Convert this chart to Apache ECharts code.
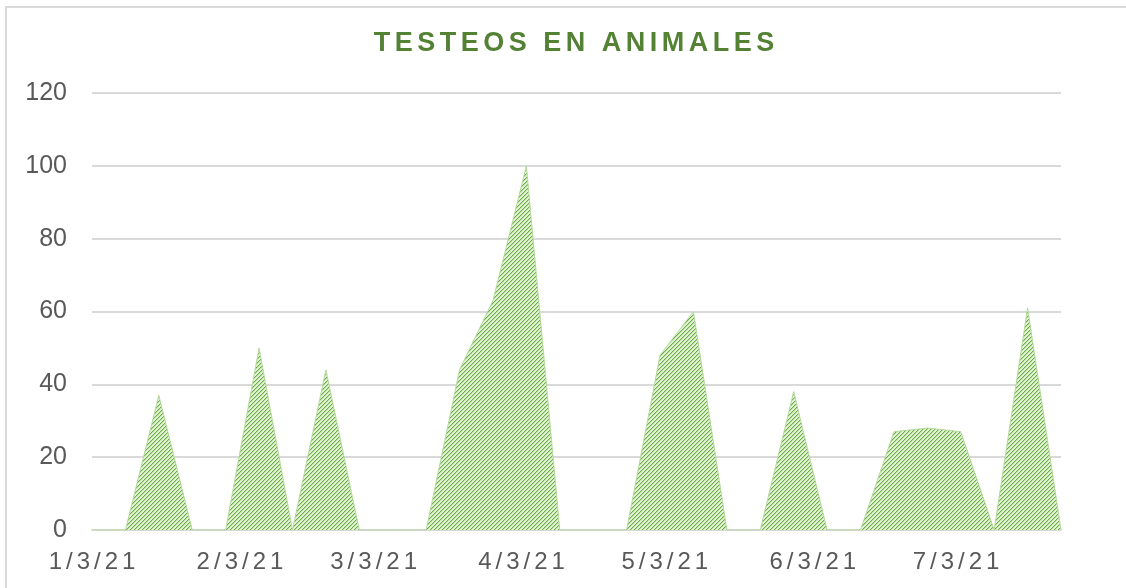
<!DOCTYPE html>
<html>
<head>
<meta charset="utf-8">
<script src="https://cdn.jsdelivr.net/npm/echarts@6/dist/echarts.min.js"></script>
<style>
html,body{margin:0;padding:0;background:#fff;}
#chart{width:1126px;height:588px;}
</style>
</head>
<body>
<div id="chart"></div>
<script>
// ---- data ----
const titleText = 'TESTEOS EN ANIMALES';
const dates = ['2021-01-03','2021-01-10','2021-01-17','2021-01-24','2021-01-31',
  '2021-02-07','2021-02-14','2021-02-21','2021-02-28','2021-03-07',
  '2021-03-14','2021-03-21','2021-03-28','2021-04-04','2021-04-11',
  '2021-04-18','2021-04-25','2021-05-02','2021-05-09','2021-05-16',
  '2021-05-23','2021-05-30','2021-06-06','2021-06-13','2021-06-20',
  '2021-06-27','2021-07-04','2021-07-11','2021-07-18','2021-07-25'];
const values = [0,0,37,0,0,50,0,44,0,0,0,44,63,100,0,0,0,48,60,0,0,38,0,0,27,28,27,0,61,0];
const tickDates = ['2021-01-03','2021-02-03','2021-03-03','2021-04-03','2021-05-03','2021-06-03','2021-07-03'];
const tickLabels = ['1/3/21','2/3/21','3/3/21','4/3/21','5/3/21','6/3/21','7/3/21'];
const yTicks = [0,20,40,60,80,100,120];

// ---- helpers ----
const DAY = 86400000;
function dayNum(s){ const p = s.split('-').map(Number); return Math.round(Date.UTC(p[0], p[1]-1, p[2]) / DAY); }
function spaced(s){ return s.split('').join('\u2006'); }

// hatch pattern
const pc = document.createElement('canvas');
pc.width = 4; pc.height = 4;
const pctx = pc.getContext('2d');
const img = pctx.createImageData(4,4);
for (let y=0;y<4;y++){
  for (let x=0;x<4;x++){
    const i=(y*4+x)*4;
    let c=[226,241,216];
    if ((x+y)%4===3) c=[104,172,62];
    else if ((x+y)%4===0) c=[188,223,166];
    img.data[i]=c[0]; img.data[i+1]=c[1]; img.data[i+2]=c[2]; img.data[i+3]=255;
  }
}
pctx.putImageData(img,0,0);

const chart = echarts.init(document.getElementById('chart'), null, {renderer:'canvas'});
const tickDays = tickDates.map(dayNum);
const FONT = 'Liberation Sans, Arial, sans-serif';

chart.setOption({
  backgroundColor:'#ffffff',
  animation:false,
  title:{
    text: titleText.split(' ').map(spaced).join('\u2006 \u2006'),
    left: 569, top: 25, textAlign:'center',
    textStyle:{color:'#548235', fontSize:27, fontWeight:'bold', fontFamily:FONT}
  },
  graphic:[{
    type:'rect', shape:{x:6, y:7, width:1200, height:700},
    style:{fill:'none', stroke:'#d9d9d9', lineWidth:2}, silent:true, z:-10
  }],
  grid:{left:92, right:65, top:93, bottom:58},
  xAxis:{
    type:'value',
    min: dayNum(dates[0]), max: dayNum(dates[dates.length-1]),
    axisLine:{show:true, onZero:false, lineStyle:{color:'#d9d9d9', width:2}},
    axisTick:{show:false},
    splitLine:{show:false},
    axisLabel:{
      customValues: tickDays,
      margin: 20,
      color:'#595959', fontSize:24, fontFamily:FONT,
      hideOverlap:false, showMinLabel:true, showMaxLabel:true,
      formatter: function(v){
        const i = tickDays.indexOf(Math.round(+v));
        return i>=0 ? spaced(tickLabels[i]) : '';
      }
    }
  },
  yAxis:{
    type:'value', min:yTicks[0], max:yTicks[yTicks.length-1], interval:20,
    axisLine:{show:false}, axisTick:{show:false},
    splitLine:{lineStyle:{color:'#d9d9d9', width:2}},
    axisLabel:{margin:25, color:'#595959', fontSize:25, fontFamily:FONT}
  },
  series:[{
    type:'line',
    data: dates.map((d,i)=>[dayNum(d), values[i]]),
    showSymbol:false,
    lineStyle:{width:1, color:'#b5d99c'},
    areaStyle:{color:{image:pc, repeat:'repeat'}, opacity:1},
    z:3
  }]
});
</script>
</body>
</html>
